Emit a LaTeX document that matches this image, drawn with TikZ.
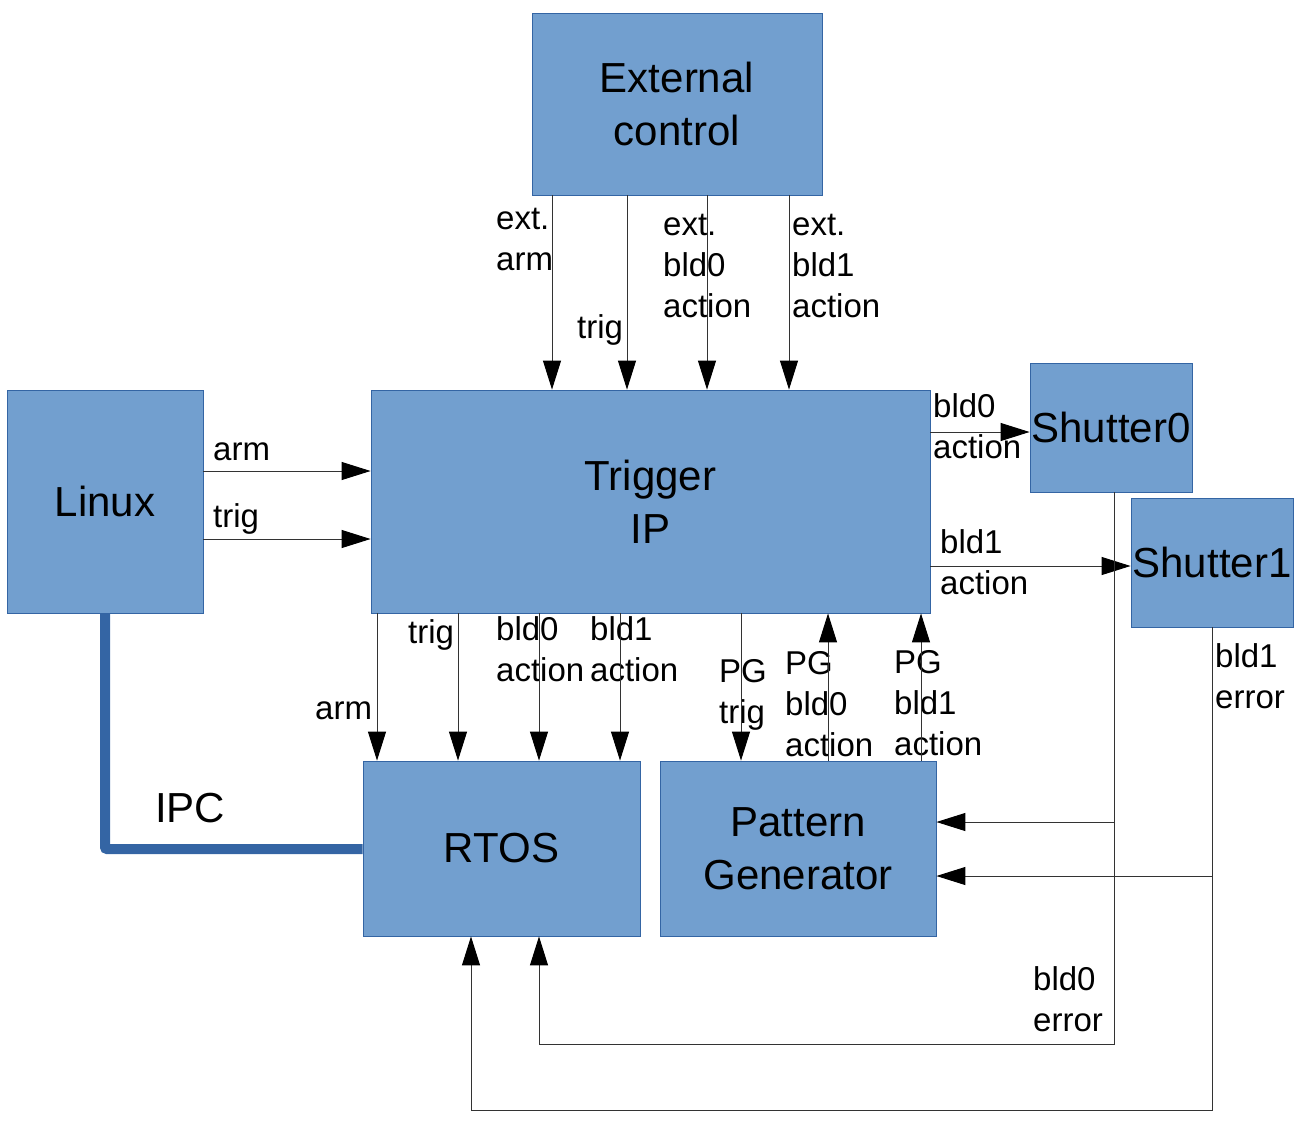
\documentclass[tikz,border=0pt]{standalone}
\usepackage{fontspec}
\setmainfont{Liberation Sans}
\usetikzlibrary{arrows.meta}
\definecolor{boxfill}{HTML}{729FCF}
\definecolor{boxline}{HTML}{3465A4}
\newcommand{\lbl}[1]{\begin{tabular}[t]{@{}l@{}}#1\end{tabular}}
\begin{document}
\begin{tikzpicture}[x=1pt,y=-1pt,
  box/.style={draw=boxline,fill=boxfill,line width=0.8pt,inner sep=0pt,align=center,
    font=\fontsize{42}{53}\selectfont},
  lab/.style={anchor=base west,inner sep=0pt,font=\fontsize{33}{41}\selectfont},
  arr/.style={draw=black!80,line width=1pt,-{Triangle[length=29pt,width=18pt,color=black]}},
  ipc/.style={draw=boxline,line width=10pt,rounded corners=2pt}]
\useasboundingbox (0,0) rectangle (1302,1128);
% boxes
\node[box,minimum width=290pt,minimum height=182pt] (ext) at (677,104) {External\\control};
\node[box,minimum width=196pt,minimum height=223pt] (linux) at (105,501.5) {Linux};
\node[box,minimum width=559pt,minimum height=223pt] (trig) at (650.5,501.5) {Trigger\\IP};
\node[box,minimum width=162pt,minimum height=129pt] (sh0) at (1111,427.5) {Shutter0};
\node[box,minimum width=162pt,minimum height=129pt] (sh1) at (1212,562.5) {Shutter1};
\node[box,minimum width=277pt,minimum height=175pt] (rtos) at (501.5,848.5) {RTOS};
\node[box,minimum width=276pt,minimum height=175pt] (pg) at (798,848.5) {Pattern\\Generator};
% helper coordinates
\foreach \v in {105,377,458,471,539,552,620,627,707,741,789,828,921,1114,1212}
  {\coordinate (c\v) at (\v,0);}
\foreach \v in {432,471,539,566,822,849,876,1044,1110}
  {\coordinate (r\v) at (0,\v);}
% labels
\node[lab] (l1) at (496,229) {\lbl{ext.\\arm}};
\node[lab] (l2) at (577,338) {\lbl{trig}};
\node[lab] (l3) at (663,235) {\lbl{ext.\\bld0\\action}};
\node[lab] (l4) at (792,235) {\lbl{ext.\\bld1\\action}};
\node[lab] (l5) at (213,460) {\lbl{arm}};
\node[lab] (l6) at (213,527) {\lbl{trig}};
\node[lab] (l7) at (933,417) {\lbl{bld0\\action}};
\node[lab] (l8) at (940,553) {\lbl{bld1\\action}};
\node[lab] (l9) at (315,719) {\lbl{arm}};
\node[lab] (l10) at (408,643) {\lbl{trig}};
\node[lab] (l11) at (496,640) {\lbl{bld0\\action}};
\node[lab] (l12) at (590,640) {\lbl{bld1\\action}};
\node[lab] (l13) at (719,682) {\lbl{PG\\trig}};
\node[lab] (l14) at (785,674) {\lbl{PG\\bld0\\action}};
\node[lab] (l15) at (894,673) {\lbl{PG\\bld1\\action}};
\node[lab] (l16) at (1215,667) {\lbl{bld1\\error}};
\node[lab] (l17) at (1033,990) {\lbl{bld0\\error}};
\node[lab,font=\fontsize{42}{53}\selectfont] (l18) at (155,822) {IPC};
% IPC link
\draw[ipc] (linux.south -| c105) |- (rtos.west |- r849);
% external control -> trigger
\foreach \v in {552,627,707,789}
  {\draw[arr] (ext.south -| c\v) -- (trig.north -| c\v);}
% linux -> trigger
\foreach \v in {471,539}
  {\draw[arr] (linux.east |- r\v) -- (trig.west |- r\v);}
% trigger -> shutters
\draw[arr] (trig.east |- r432) -- (sh0.west |- r432);
\draw[arr] (trig.east |- r566) -- (sh1.west |- r566);
% trigger -> rtos
\foreach \v in {377,458,539,620}
  {\draw[arr] (trig.south -| c\v) -- (rtos.north -| c\v);}
% trigger <-> pattern generator
\draw[arr] (trig.south -| c741) -- (pg.north -| c741);
\draw[arr] (pg.north -| c828) -- (trig.south -| c828);
\draw[arr] (pg.north -| c921) -- (trig.south -| c921);
% error feedback
\draw[arr] (sh0.south -| c1114) |- (c539 |- r1044) -- (rtos.south -| c539);
\draw[arr] (c1114 |- r822) -- (pg.east |- r822);
\draw[arr] (sh1.south -| c1212) |- (c471 |- r1110) -- (rtos.south -| c471);
\draw[arr] (c1212 |- r876) -- (pg.east |- r876);
\end{tikzpicture}
\end{document}
